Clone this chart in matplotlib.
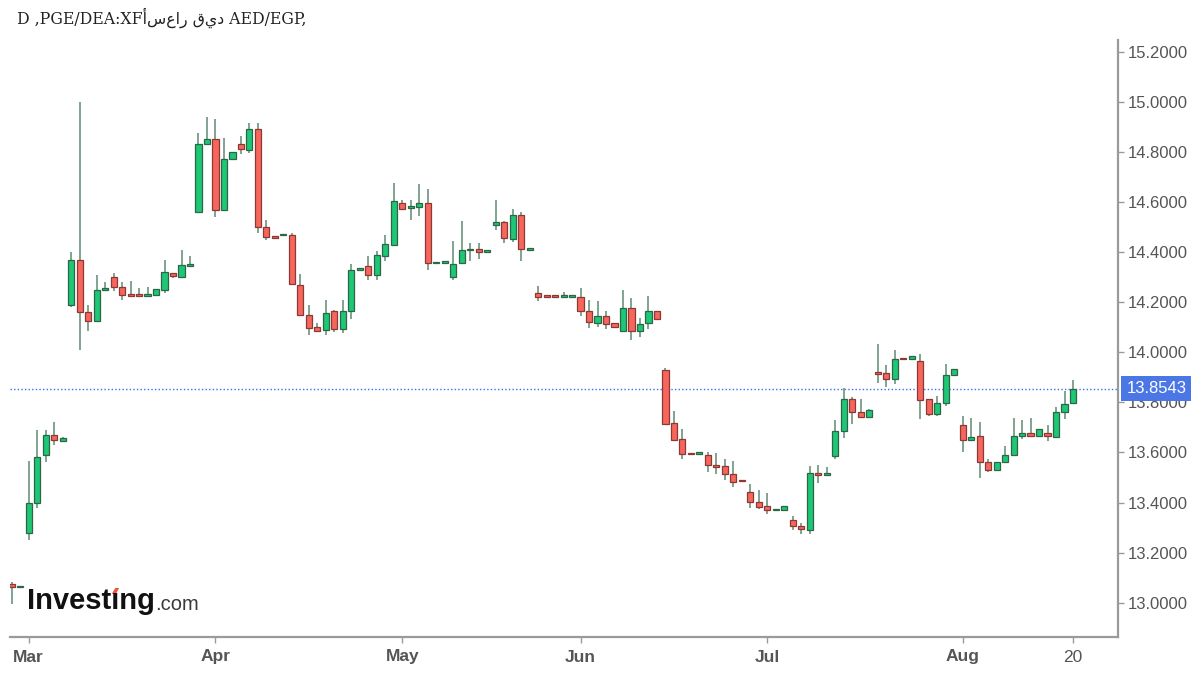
import numpy as np
import matplotlib
matplotlib.use('Agg')
import matplotlib.pyplot as plt
from matplotlib.patches import Polygon

# daily candles, one slot per trading day (Feb end .. Aug 20)
opens = [13.075, 13.061, 13.28, 13.40, 13.59, 13.67, 13.645,
         14.19, 14.37, 14.16, 14.125, 14.25, 14.30, 14.26, 14.228, 14.228, 14.225, 14.227, 14.25, 14.317, 14.30, 14.345,
         14.56, 14.83, 14.85, 14.57, 14.772, 14.83, 14.807, 14.893, 14.50, 14.462, 14.467, 14.47, 14.27, 14.15, 14.099,
         14.088, 14.165, 14.091, 14.165, 14.328, 14.343, 14.31, 14.386, 14.43, 14.598, 14.576, 14.58, 14.598, 14.355,
         14.356, 14.302, 14.355, 14.407, 14.412, 14.401, 14.509, 14.522, 14.452, 14.549, 14.41,
         14.236, 14.224, 14.224, 14.222, 14.222, 14.22, 14.165, 14.117, 14.144, 14.115, 14.085, 14.177, 14.085, 14.115,
         14.165,
         13.929, 13.717, 13.654, 13.596, 13.593, 13.589, 13.551, 13.545, 13.512, 13.488, 13.442, 13.404, 13.385, 13.369,
         13.37, 13.331, 13.307, 13.291, 13.519, 13.509,
         13.585, 13.684, 13.813, 13.76, 13.74, 13.92, 13.916, 13.893, 13.974, 13.972, 13.965, 13.813, 13.753, 13.799,
         13.909,
         13.711, 13.651, 13.664, 13.563, 13.529, 13.563, 13.588, 13.664, 13.678, 13.664, 13.678, 13.661, 13.76, 13.799]
highs = [13.082, 13.063, 13.565, 13.69, 13.69, 13.72, 13.66,
         14.40, 15.00, 14.19, 14.31, 14.28, 14.317, 14.28, 14.283, 14.256, 14.26, 14.254, 14.37, 14.317, 14.41, 14.383,
         14.876, 14.94, 14.93, 14.856, 14.80, 14.865, 14.915, 14.915, 14.53, 14.462, 14.47, 14.478, 14.313, 14.19, 14.115,
         14.21, 14.168, 14.207, 14.353, 14.331, 14.385, 14.403, 14.468, 14.677, 14.607, 14.607, 14.671, 14.651, 14.362,
         14.362, 14.443, 14.523, 14.435, 14.435, 14.404, 14.607, 14.525, 14.574, 14.562, 14.413,
         14.263, 14.224, 14.224, 14.24, 14.224, 14.258, 14.21, 14.204, 14.165, 14.115, 14.25, 14.218, 14.138, 14.224,
         14.165,
         13.936, 13.764, 13.695, 13.596, 13.602, 13.60, 13.596, 13.572, 13.565, 13.488, 13.472, 13.449, 13.437, 13.371,
         13.385, 13.347, 13.32, 13.545, 13.548, 13.541,
         13.731, 13.856, 13.823, 13.814, 13.775, 14.032, 13.949, 14.011, 13.974, 13.986, 13.993, 13.815, 13.826, 13.952,
         13.933,
         13.744, 13.737, 13.72, 13.575, 13.563, 13.627, 13.737, 13.731, 13.737, 13.695, 13.711, 13.78, 13.847, 13.889]
lows = [12.996, 13.061, 13.25, 13.38, 13.56, 13.63, 13.645,
        14.18, 14.01, 14.085, 14.125, 14.25, 14.245, 14.21, 14.225, 14.226, 14.225, 14.227, 14.235, 14.296, 14.296, 14.345,
        14.555, 14.829, 14.54, 14.57, 14.77, 14.79, 14.796, 14.478, 14.45, 14.458, 14.467, 14.27, 14.144, 14.068, 14.085,
        14.068, 14.081, 14.075, 14.134, 14.328, 14.287, 14.287, 14.366, 14.43, 14.574, 14.528, 14.545, 14.329, 14.355,
        14.356, 14.289, 14.353, 14.366, 14.373, 14.401, 14.488, 14.435, 14.441, 14.366, 14.41,
        14.204, 14.222, 14.222, 14.222, 14.222, 14.144, 14.097, 14.101, 14.091, 14.099, 14.085, 14.051, 14.059, 14.091,
        14.131,
        13.708, 13.651, 13.572, 13.592, 13.593, 13.523, 13.512, 13.489, 13.463, 13.484, 13.377, 13.376, 13.353, 13.369,
        13.37, 13.291, 13.274, 13.274, 13.476, 13.509,
        13.572, 13.658, 13.715, 13.74, 13.74, 13.879, 13.86, 13.872, 13.972, 13.972, 13.733, 13.746, 13.746, 13.786,
        13.909,
        13.601, 13.651, 13.496, 13.521, 13.529, 13.556, 13.588, 13.655, 13.664, 13.664, 13.647, 13.657, 13.733, 13.799]
closes = [13.062, 13.063, 13.40, 13.58, 13.67, 13.65, 13.658,
          14.37, 14.16, 14.125, 14.25, 14.252, 14.26, 14.227, 14.225, 14.226, 14.228, 14.254, 14.32, 14.304, 14.35, 14.35,
          14.83, 14.85, 14.57, 14.77, 14.80, 14.81, 14.893, 14.50, 14.46, 14.458, 14.47, 14.273, 14.148, 14.097, 14.085,
          14.158, 14.091, 14.165, 14.329, 14.331, 14.31, 14.389, 14.432, 14.604, 14.574, 14.580, 14.598, 14.355, 14.357,
          14.358, 14.353, 14.408, 14.41, 14.399, 14.404, 14.522, 14.456, 14.549, 14.412, 14.413,
          14.22, 14.222, 14.222, 14.224, 14.224, 14.165, 14.119, 14.144, 14.112, 14.099, 14.177, 14.085, 14.112, 14.165,
          14.131,
          13.714, 13.651, 13.594, 13.592, 13.595, 13.549, 13.543, 13.512, 13.483, 13.484, 13.402, 13.382, 13.369, 13.371,
          13.385, 13.307, 13.294, 13.519, 13.509, 13.512,
          13.684, 13.813, 13.76, 13.74, 13.768, 13.915, 13.893, 13.973, 13.972, 13.986, 13.81, 13.753, 13.799, 13.909,
          13.933,
          13.651, 13.662, 13.563, 13.529, 13.561, 13.588, 13.664, 13.678, 13.664, 13.695, 13.664, 13.76, 13.793, 13.8543]

month_slots = [2, 24, 46, 67, 89, 112, 125]
month_labels = ['Mar', 'Apr', 'May', 'Jun', 'Jul', 'Aug', '20']
price_ticks = [13.0, 13.2, 13.4, 13.6, 13.8, 14.0, 14.2, 14.4, 14.6, 14.8, 15.0, 15.2]
last_price = 13.8543
title = 'D ,PGE/DEA:XF' + 'أسعار قيد' + ' AED/EGP,'

up_fill, up_edge = '#1ec776', '#2d6646'
dn_fill, dn_edge = '#f7665c', '#8a3934'
wick_col = '#5f8a74'

fig = plt.figure(figsize=(12, 6.75), dpi=100)
ax = fig.add_axes([10 / 1200, 38 / 675, 1108 / 1200, 597 / 675])

x = np.arange(len(opens))
o = np.array(opens); h = np.array(highs); l = np.array(lows); c = np.array(closes)
up = c >= o

ax.vlines(x, l, h, color=wick_col, linewidth=1.1, zorder=2)
body_lo = np.minimum(o, c)
body_h = np.maximum(np.abs(c - o), 0.007)
ax.bar(x[up], body_h[up], bottom=body_lo[up], width=0.72, color=up_fill,
       edgecolor=up_edge, linewidth=0.9, zorder=3)
ax.bar(x[~up], body_h[~up], bottom=body_lo[~up], width=0.72, color=dn_fill,
       edgecolor=dn_edge, linewidth=0.9, zorder=3)

ax.axhline(last_price, color='#3d6cf0', linestyle=(0, (1, 1.6)), linewidth=1.0, zorder=1)

ax.set_xlim(-0.2, 130.3)
ax.set_ylim(12.863, 15.247)

for s in ['left', 'top']:
    ax.spines[s].set_visible(False)
for s in ['right', 'bottom']:
    ax.spines[s].set_color('#9a9a9a')
    ax.spines[s].set_linewidth(1.6)

ax.yaxis.tick_right()
ax.set_yticks(price_ticks)
ax.set_yticklabels(['%.4f' % p for p in price_ticks])
ax.tick_params(axis='y', length=4, width=1, color='#9a9a9a', pad=3,
               labelsize=12, labelcolor='#555555')
ax.set_xticks(month_slots)
ax.set_xticklabels(month_labels)
ax.tick_params(axis='x', length=4, width=1, color='#9a9a9a', pad=5,
               labelsize=12.5, labelcolor='#555555')
for t in ax.get_yticklabels():
    t.set_family(['Liberation Sans', 'DejaVu Sans'])
for t in ax.get_xticklabels():
    t.set_family(['Liberation Sans', 'DejaVu Sans'])
    if t.get_text() != '20':
        t.set_fontweight('bold')

# current price tag
ax.annotate('%.4f' % last_price, xy=(1.0, last_price), xycoords=('axes fraction', 'data'),
            xytext=(6, 0), textcoords='offset points', va='center', ha='left',
            fontsize=12, color='white', family=['Liberation Sans', 'DejaVu Sans'],
            bbox=dict(boxstyle='square,pad=0.3', fc='#4a76e6', ec='none'),
            annotation_clip=False, zorder=10)

fig.text(17 / 1200, 1 - 18 / 675, title, fontsize=11.3, color='#222222', va='center', ha='left',
         family=['DejaVu Serif', 'DejaVu Sans'])

# logo: dotless i so the dot can be drawn red
logo_font = dict(fontsize=21, fontweight='bold', family=['Liberation Sans', 'DejaVu Sans'])
logo = fig.text(27 / 1200, 1 - 601 / 675, 'Invest\u0131ng', color='#111111',
                va='center', ha='left', **logo_font)
fig.canvas.draw()
rend = fig.canvas.get_renderer()
bb = logo.get_window_extent(rend)
probe = fig.text(0, 0, 'Invest', **logo_font)
w_pre = probe.get_window_extent(rend).width
probe.set_text('Invest\u0131')
w_i = probe.get_window_extent(rend).width - w_pre
probe.remove()
cx = bb.x0 + w_pre + w_i / 2
top = bb.y1 - 2
dot = np.array([[cx - 3.5, top - 5], [cx + 0.5, top - 5], [cx + 4, top + 1], [cx, top + 1]])
fig.patches.append(Polygon(dot / [1200, 675], closed=True, transform=fig.transFigure,
                           fc='#f0563e', ec='none'))
fig.text(bb.x1 / 1200 + 0.0005, 1 - 604 / 675, '.com', fontsize=14.5, color='#3a3a3a',
         va='center', ha='left', family=['Liberation Sans', 'DejaVu Sans'])

fig.savefig('out.png', dpi=100, facecolor='white')
